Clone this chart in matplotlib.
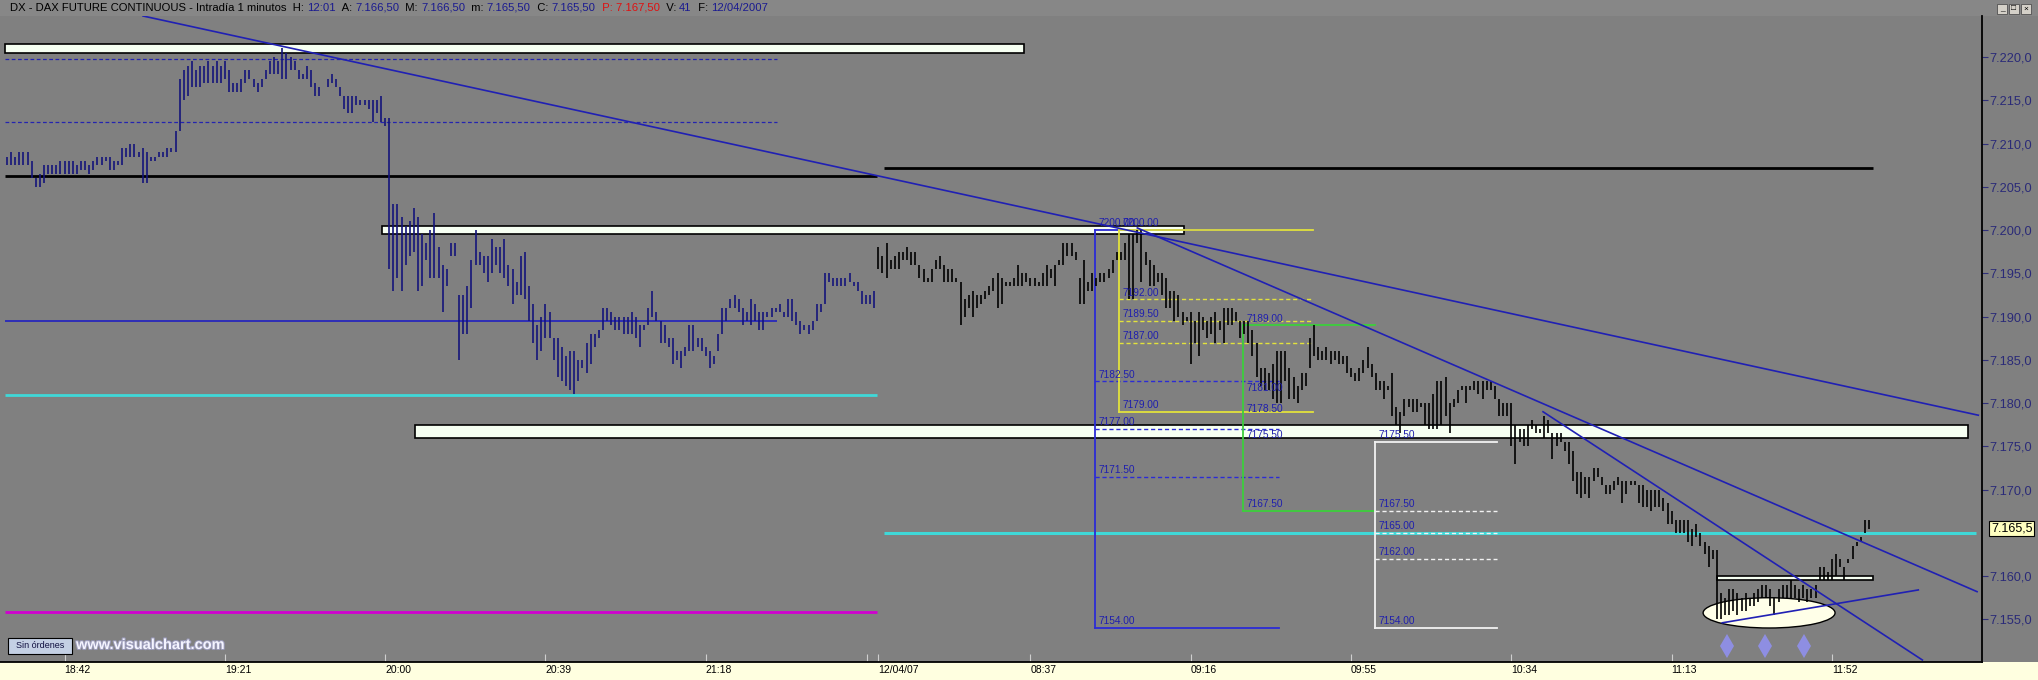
import matplotlib
matplotlib.use("Agg")
import matplotlib.pyplot as plt
from matplotlib.patches import Rectangle, Ellipse
import matplotlib.patheffects as pe

plt.rcParams['font.family'] = ['Liberation Sans', 'DejaVu Sans']

# one bar per minute; x = bar number
# 11/04/07 evening session 18:28 - 21:59  (x = 0 .. 211)
high_1 = [7208.5, 7209, 7208.5, 7209, 7209, 7209, 7208, 7206, 7206.5, 7207.5,
          7207.5, 7207.5, 7207.5, 7208, 7208, 7208, 7208, 7207.5, 7208, 7208,
          7207.5, 7208, 7208.5, 7208.5, 7208.5, 7208.5, 7208, 7208, 7209.5, 7209.5,
          7210, 7210, 7209, 7209.5, 7209, 7208.5, 7208.5, 7209, 7209, 7209.5,
          7209.5, 7211.5, 7217.5, 7218.5, 7219, 7219.5, 7218.5, 7219, 7219, 7219.5,
          7219, 7219.5, 7219, 7219.5, 7218.5, 7217, 7217, 7217.5, 7218.5, 7218.5,
          7217.5, 7217, 7217.5, 7218.5, 7219.5, 7220, 7219.5, 7221, 7220.5, 7220,
          7219.5, 7218.5, 7218, 7219, 7218.5, 7217, 7216.5, 7216, 7217.5, 7218,
          7217.5, 7216.5, 7215.5, 7215.5, 7215.5, 7215.5, 7215, 7215, 7215, 7215,
          7215, 7215.5, 7213, 7213, 7203, 7203, 7201.5, 7200.5, 7201, 7202.5,
          7201.5, 7199.5, 7198.5, 7200, 7202, 7198, 7196, 7195.5, 7198.5, 7198.5,
          7192.5, 7192.5, 7193.5, 7196.5, 7200, 7197.5, 7197, 7197, 7199, 7198,
          7198, 7199, 7196, 7195.5, 7194, 7197, 7197.5, 7193.5, 7191.5, 7189,
          7190, 7191.5, 7190.5, 7187.5, 7187.5, 7186.5, 7185.5, 7186, 7186, 7185,
          7185, 7187, 7188, 7188, 7188.5, 7191, 7191, 7190.5, 7190, 7190,
          7190, 7190, 7190.5, 7190, 7189, 7189, 7191, 7193, 7190.5, 7189.5,
          7189, 7187.5, 7187.5, 7186, 7186, 7186.5, 7189, 7189, 7187.5, 7187.5,
          7186.5, 7186, 7185.5, 7188, 7191, 7191, 7192, 7192.5, 7192, 7191,
          7190.5, 7192, 7191.5, 7190.5, 7190.5, 7190.5, 7191, 7191, 7191.5, 7190.5,
          7192, 7192, 7190.5, 7189.5, 7189, 7189, 7189.5, 7191.5, 7191.5, 7195,
          7195, 7194.5, 7194.5, 7194.5, 7194.5, 7195, 7194, 7194, 7193, 7192.5,
          7192.5, 7193]
low_1 = [7207.5, 7207.5, 7207.5, 7207.5, 7207.5, 7207.5, 7206, 7205, 7205, 7205.5,
         7206.5, 7206.5, 7206.5, 7206.5, 7206.5, 7206.5, 7206.5, 7206.5, 7207, 7207,
         7206.5, 7207, 7207.5, 7207.5, 7208, 7207, 7207, 7207.5, 7207.5, 7208.5,
         7208.5, 7208.5, 7208.5, 7205.5, 7205.5, 7208, 7208, 7208.5, 7208.5, 7208.5,
         7209, 7209, 7211.5, 7215, 7215.5, 7216.5, 7216.5, 7216.5, 7217, 7217,
         7217, 7217, 7217, 7217.5, 7216, 7216, 7216, 7216, 7217, 7217.5,
         7216.5, 7216, 7216.5, 7217.5, 7218, 7218, 7218, 7217.5, 7217.5, 7218.5,
         7218.5, 7217.5, 7217.5, 7217.5, 7216.5, 7215.5, 7215.5, 7216, 7216.5, 7217,
         7216.5, 7215.5, 7214, 7213.5, 7213.5, 7214.5, 7214.5, 7214.5, 7214, 7212.5,
         7213.5, 7212.5, 7212, 7195.5, 7193, 7194.5, 7193, 7196, 7197, 7197.5,
         7193, 7193.5, 7196.5, 7194.5, 7194.5, 7194.5, 7190.5, 7193.5, 7197, 7197,
         7185, 7188, 7188, 7191, 7196, 7196, 7195, 7194, 7195, 7196,
         7195, 7194.5, 7193.5, 7191.5, 7192.5, 7192.5, 7192, 7189.5, 7187, 7185,
         7186, 7187.5, 7187.5, 7185, 7183, 7182.5, 7182, 7181.5, 7181, 7182.5,
         7184, 7183.5, 7184.5, 7186.5, 7187.5, 7188.5, 7189.5, 7189, 7188.5, 7188.5,
         7188, 7188, 7188, 7187.5, 7186.5, 7188.5, 7189, 7190, 7189.5, 7187,
         7187, 7186.5, 7184.5, 7185, 7184, 7185.5, 7186, 7186, 7186.5, 7186,
         7185.5, 7184, 7184.5, 7186, 7188, 7189.5, 7191, 7191, 7190.5, 7189,
         7189.5, 7189, 7189.5, 7188.5, 7188.5, 7190, 7190, 7190.5, 7190.5, 7190,
         7190, 7189.5, 7189, 7188, 7188.5, 7188, 7188.5, 7189.5, 7190.5, 7191.5,
         7194, 7193.5, 7193.5, 7193.5, 7193.5, 7194, 7193.5, 7193, 7191.5, 7191.5,
         7191.5, 7191]

# 12/04/07 morning session 08:00 - 12:01  (x = 212 .. 453)
high_2 = [7198, 7197, 7198.5, 7196.5, 7197, 7197.5, 7197.5, 7198, 7197.5, 7197.5,
          7196, 7195.5, 7194.5, 7195.5, 7196.5, 7197, 7196, 7195.5, 7195.5, 7194.5,
          7194, 7192, 7192.5, 7193, 7192.5, 7192.5, 7193, 7193.5, 7194.5, 7195,
          7194.5, 7194, 7194, 7194.5, 7196, 7195, 7195, 7194.5, 7194.5, 7194,
          7195, 7196, 7195.5, 7196, 7196.5, 7198.5, 7198.5, 7198.5, 7197.5, 7194.5,
          7196.5, 7194, 7195, 7194.5, 7195, 7195, 7195.5, 7196.5, 7197.5, 7197.5,
          7198.5, 7199.5, 7199.5, 7200, 7200, 7197.5, 7196.5, 7196, 7195, 7195,
          7194.5, 7193, 7193, 7192.5, 7190.5, 7190,
          7190.5, 7189.5, 7190.5, 7190, 7189.5, 7190, 7190.5, 7189.5, 7191, 7191, 7191, 7190.5,
          7189.5, 7189.5, 7189.5, 7188.5, 7187,
          7184, 7184, 7183.5, 7184.5, 7186, 7186, 7186, 7184, 7183, 7182,
          7183.5, 7183.5, 7187.5, 7189, 7186.5, 7186, 7186.5, 7186, 7186, 7186,
          7185.5, 7185.5, 7184, 7183.5, 7184, 7185, 7186.5, 7184.5, 7183.5, 7182.5,
          7182.5, 7182, 7183.5, 7179.5, 7179, 7180.5, 7180.5, 7180.5, 7180.5, 7180,
          7180, 7180, 7181, 7182.5, 7182.5, 7183, 7180, 7180.5, 7181.5, 7182,
          7182, 7182, 7182.5, 7182.5, 7182.5, 7182.5, 7182.5, 7182, 7180.5, 7180,
          7180, 7180, 7177.5, 7177, 7177, 7177.5, 7178, 7177.5, 7177, 7178.5,
          7178, 7176.5, 7176.5, 7176.5, 7175.5, 7175.5, 7174.5, 7172, 7172, 7171.5,
          7171.5, 7172.5, 7172.5, 7171.5, 7170.5, 7170.5, 7171, 7171.5,
          7171, 7171, 7171, 7171, 7170.5, 7170.5, 7170, 7170, 7170, 7170,
          7169, 7168.5, 7167.5, 7166.5, 7166.5, 7166.5, 7166.5, 7165.5, 7166, 7165,
          7164, 7163.5, 7163, 7163,
          7158, 7157.5, 7158.5, 7158.5, 7158, 7157.5, 7158, 7157.5, 7158, 7158.5,
          7159, 7159, 7158.5, 7157.5, 7158.5, 7159, 7159, 7159.5, 7159, 7158.5,
          7159, 7158.5, 7158.5, 7159, 7161, 7161, 7160.5, 7162, 7162.5, 7162,
          7161, 7162, 7163.5, 7164, 7164.5, 7166.5, 7166.5]
low_2 = [7195.5, 7195, 7194.5, 7195.5, 7195.5, 7195.5, 7196.5, 7196.5, 7196, 7196,
         7194.5, 7194, 7194, 7194, 7195.5, 7195.5, 7194, 7194, 7194, 7194,
         7189, 7190, 7191, 7190, 7191, 7191.5, 7192, 7192.5, 7193, 7191,
         7191.5, 7193.5, 7193.5, 7193.5, 7193.5, 7193.5, 7194, 7193.5, 7193.5, 7193.5,
         7193.5, 7193.5, 7194.5, 7193.5, 7196, 7196, 7197, 7197, 7196.5, 7191.5,
         7191.5, 7193, 7193, 7193.5, 7194, 7194, 7194.5, 7195, 7196.5, 7196.5,
         7196.5, 7192, 7192, 7198.5, 7194, 7196, 7193.5, 7193.5, 7194, 7192.5,
         7191, 7191, 7189.5, 7190, 7189, 7189.5,
         7184.5, 7187, 7185.5, 7188.5, 7187.5, 7188, 7187, 7188.5, 7187, 7189, 7189, 7189.5,
         7187.5, 7188, 7187, 7185.5, 7183,
         7182, 7181.5, 7181.5, 7180.5, 7180, 7180, 7182.5, 7180.5, 7180.5, 7180,
         7181.5, 7182, 7184, 7185.5, 7185, 7185, 7185, 7184.5, 7185, 7184.5,
         7184.5, 7183.5, 7183, 7182.5, 7182.5, 7183.5, 7184, 7183, 7181.5, 7181.5,
         7180.5, 7181.5, 7178.5, 7177.5, 7176.5, 7178.5, 7179.5, 7179, 7179, 7179.5,
         7177.5, 7177, 7177, 7177, 7177.5, 7178.5, 7176.5, 7179.5, 7180, 7181.5,
         7180, 7181.5, 7181.5, 7181, 7180.5, 7181.5, 7181.5, 7180.5, 7178.5, 7178.5,
         7178.5, 7175, 7173, 7175.5, 7175, 7175, 7177, 7176.5, 7176.5, 7176,
         7176.5, 7173.5, 7175, 7175.5, 7174.5, 7173, 7171, 7169.5, 7169, 7169.5,
         7169, 7171, 7171.5, 7170.5, 7169.5, 7169.5, 7170, 7170.5,
         7168.5, 7169.5, 7170.5, 7170.5, 7168.5, 7168, 7168, 7167.5, 7168, 7168,
         7167.5, 7166, 7166, 7165, 7165, 7165, 7164, 7163.5, 7164.5, 7163.5,
         7162.5, 7161, 7162, 7155,
         7155, 7155.5, 7155.5, 7156, 7155.5, 7156, 7156, 7156.5, 7156.5, 7157,
         7157.5, 7157.5, 7156.5, 7155.5, 7157, 7157.5, 7157.5, 7157.5, 7157.5, 7157,
         7157.5, 7157, 7157.5, 7157.5, 7159.5, 7159.5, 7159.5, 7159.5, 7160, 7161,
         7159.5, 7161.5, 7162, 7163.5, 7164, 7165, 7165.5]

time_ticks = [14, 53, 92, 131, 170, 212, 249, 288, 327, 366, 405, 444]
time_labels = ['18:42', '19:21', '20:00', '20:39', '21:18', '12/04/07',
               '08:37', '09:16', '09:55', '10:34', '11:13', '11:52']
# 7.165,0 sits under the last-price box
price_ticks = [7155, 7160, 7170, 7175, 7180, 7185, 7190, 7195, 7200, 7205, 7210, 7215, 7220]
price_labels = ['7.155,0', '7.160,0', '7.170,0', '7.175,0', '7.180,0', '7.185,0',
                '7.190,0', '7.195,0', '7.200,0', '7.205,0', '7.210,0', '7.215,0', '7.220,0']
last_price = 7165.5

# user drawings, in (bar, price)
bands = [(-0.5, 247.4, 7220.5, 7221.5), (91.2, 286.4, 7199.5, 7200.5),
         (99.3, 477.0, 7176.0, 7177.5), (416.0, 454.0, 7159.5, 7160.0)]
hlines = [  # price, from, to, colour, width, style
    (7219.75, -0.5, 187.4, '#2424b0', 0.9, (0, (3, 2))),
    (7212.5, -0.5, 187.4, '#2424b0', 0.9, (0, (3, 2))),
    (7206.25, -0.5, 211.7, 'black', 2.0, '-'),
    (7207.2, 213.4, 454.0, 'black', 2.0, '-'),
    (7189.5, -0.5, 187.4, '#2020c0', 1.2, '-'),
    (7180.9, -0.5, 211.7, '#3fd8d8', 2.0, '-'),
    (7165.0, 213.4, 479.0, '#3fd8d8', 2.2, '-'),
    (7155.85, -0.5, 211.7, '#d000d0', 2.0, '-'),
]
trend_lines = [((33.1, 7224.75), (479.6, 7178.6)),
               ((275.0, 7200.25), (479.3, 7158.2)),
               ((373.7, 7179.0), (466.0, 7150.3)),
               ((417.3, 7154.6), (465.0, 7158.4))]
fib_boxes = [  # left, right, top, bottom, levels, colour, dashed level lines
    (264.7, 309.5, 7200.0, 7154.0, [7182.5, 7177.0, 7171.5], '#2b2bd6', True),
    (270.6, 317.8, 7200.0, 7179.0, [7192.0, 7189.5, 7187.0], '#e2e23c', True),
    (300.7, 332.8, 7189.0, 7167.5, [7181.0, 7178.5, 7175.5], '#3ccf3c', False),
    (332.9, 362.5, 7175.5, 7154.0, [7167.5, 7165.0, 7162.0], '#f2f2f2', True),
]
ellipse = (428.7, 7155.75, 32.1, 3.5)
arrows_x = [418.5, 427.7, 437.2]
arrows_y = 7151.9

GRAY = '#808080'
W, H = 2038, 680
fig = plt.figure(figsize=(W / 100, H / 100), dpi=100)
fig.patch.set_facecolor(GRAY)
ax = fig.add_axes([0, 18 / H, 1982 / W, 646 / H])
ax.set_facecolor(GRAY)
ax.set_xlim(-1.7, 480.5)
ax.set_ylim(7150.07, 7224.75)

# header and bottom strip
fig.add_artist(Rectangle((0, 0), 1, 18 / H, transform=fig.transFigure,
                         facecolor='#FFFFE0', edgecolor='none', zorder=-1))
fig.add_artist(Rectangle((0, 1 - 16 / H), 1, 16 / H, transform=fig.transFigure,
                         facecolor='#878787', edgecolor='none', zorder=-1))

for x0, x1, lo, hi in bands:
    ax.add_patch(Rectangle((x0, lo), x1 - x0, hi - lo, facecolor='#F6FFF2',
                           edgecolor='black', lw=1.2, zorder=2))
for p, x0, x1, c, lw, ls in hlines:
    ax.plot([x0, x1], [p, p], color=c, lw=lw, ls=ls, zorder=2.5, solid_capstyle='butt')

ex, ey, ew, eh = ellipse
ax.add_patch(Ellipse((ex, ey), ew, eh, facecolor='#FFFFE8', edgecolor='black', lw=1, zorder=2))

for x0, x1, top, bot, lev, c, dashed in fib_boxes:
    ax.plot([x0, x0], [top, bot], color=c, lw=1.3, zorder=2.6)
    ax.plot([x0, x1], [top, top], color=c, lw=1.3, zorder=2.6)
    ax.plot([x0, x1], [bot, bot], color=c, lw=1.3, zorder=2.6)
    if dashed:
        for v in lev:
            ax.plot([x0, x1], [v, v], color=c, lw=1.0, ls=(0, (3, 2)), zorder=2.6)
    for v in [top] + lev + [bot]:
        ax.text(x0 + 0.8, v + 0.2, f'{v:.2f}', color='#1f1fae', fontsize=7.3,
                ha='left', va='bottom', zorder=5)

ax.vlines(range(len(high_1)), low_1, high_1, colors='#14147a', lw=1.2, zorder=3)
x2 = range(len(high_1), len(high_1) + len(high_2))
ax.vlines(x2, low_2, high_2, colors='black', lw=1.2, zorder=3)

for (xa, ya), (xb, yb) in trend_lines:
    ax.plot([xa, xb], [ya, yb], color='#2020b4', lw=1.2, zorder=4)

ax.plot(arrows_x, [arrows_y] * 3, ls='none', marker='d', markersize=12,
        color='#9090ee', mew=0, alpha=0.9, zorder=4)

# axes
for s in ['left', 'top']:
    ax.spines[s].set_visible(False)
for s in ['right', 'bottom']:
    ax.spines[s].set_color('black')
    ax.spines[s].set_linewidth(1.3)
ax.yaxis.tick_right()
ax.set_yticks(price_ticks)
ax.set_yticklabels(price_labels)
ax.tick_params(axis='y', direction='out', length=4, width=0.8, color='#30307a',
               labelcolor='#2a2a78', labelsize=9.2, pad=1.5)
ax.set_xticks(time_ticks)
ax.set_xticklabels(time_labels)
ax.set_xticks([209.3], minor=True)
ax.tick_params(axis='x', which='both', direction='in', length=6, width=0.8,
               color='#cfcfcf', labelsize=7.5, pad=2)
for lbl in ax.get_xticklabels():
    lbl.set_ha('left')

ax.text(1.0045, last_price, '7.165,5', transform=ax.get_yaxis_transform(), fontsize=9,
        ha='left', va='center', zorder=6, clip_on=False,
        bbox=dict(boxstyle='square,pad=0.15', fc='#FFFFC0', ec='black', lw=0.8))

# header text
segs = [('DX - DAX FUTURE CONTINUOUS - Intradía 1 minutos  H: ', 'black'), ('12:01', '#1a1a90'),
        ('  A: ', 'black'), ('7.166,50', '#1a1a90'), ('  M: ', 'black'), ('7.166,50', '#1a1a90'),
        ('  m: ', 'black'), ('7.165,50', '#1a1a90'), ('  C: ', 'black'), ('7.165,50', '#1a1a90'),
        ('  P: 7.167,50', '#e01010'), ('  V: ', 'black'), ('41', '#1a1a90'),
        ('  F: ', 'black'), ('12/04/2007', '#1a1a90')]
renderer = fig.canvas.get_renderer()
xpos = 10 / W
for s, c in segs:
    t = fig.text(xpos, 1 - 8 / H, s, color=c, fontsize=8.1, ha='left', va='center')
    xpos += t.get_window_extent(renderer).width / W

# window buttons
for k, g in enumerate(['_', '□', '×']):
    bx = (1997 + 12 * k) / W
    fig.add_artist(Rectangle((bx, 1 - 14 / H), 10 / W, 10 / H, transform=fig.transFigure,
                             facecolor='#d4d0c8', edgecolor='#505050', lw=0.6))
    fig.text(bx + 5 / W, 1 - 9 / H, g, fontsize=6, ha='center', va='center', color='black')

# bottom-left
fig.add_artist(Rectangle((8 / W, 26 / H), 64 / W, 16 / H, transform=fig.transFigure,
                         facecolor='#c4d0e4', edgecolor='black', lw=0.8))
fig.text(40 / W, 34 / H, 'Sin órdenes', fontsize=6.5, ha='center', va='center', color='#101040')
fig.text(76 / W, 35 / H, 'www.visualchart.com', fontsize=10.5, fontweight='bold',
         ha='left', va='center', color='#f4f4ff',
         path_effects=[pe.withStroke(linewidth=1.5, foreground='#9a9ab8')])

fig.savefig('out.png', dpi=100, facecolor=fig.get_facecolor())
